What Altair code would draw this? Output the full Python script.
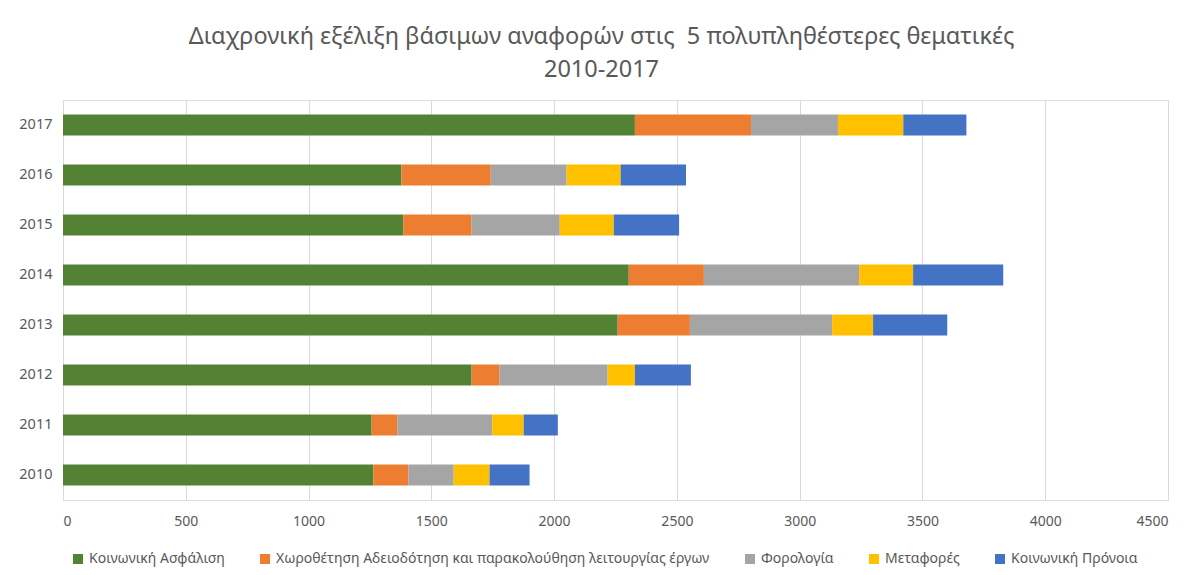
import altair as alt
import pandas as pd

years = ["2010", "2011", "2012", "2013", "2014", "2015", "2016", "2017"]
series = [
    "Κοινωνική Ασφάλιση",
    "Χωροθέτηση Αδειοδότηση και παρακολούθηση λειτουργίας έργων",
    "Φορολογία",
    "Μεταφορές",
    "Κοινωνική Πρόνοια",
]
koinoniki_asfalisi = [1264, 1257, 1664, 2259, 2304, 1386, 1378, 2329]
xorothetisi = [143, 104, 114, 294, 306, 278, 364, 473]
forologia = [184, 387, 440, 579, 632, 359, 309, 354]
metafores = [146, 128, 111, 167, 220, 220, 220, 266]
koinoniki_pronoia = [163, 139, 228, 302, 367, 266, 266, 257]
colors = ["#548235", "#ED7D31", "#A5A5A5", "#FFC000", "#4472C4"]

rows = []
for i, y in enumerate(years):
    for k, vals in enumerate([koinoniki_asfalisi, xorothetisi, forologia, metafores, koinoniki_pronoia]):
        rows.append({"year": y, "series": series[k], "order": k, "value": vals[i]})
df = pd.DataFrame(rows)

FONT = "Noto Sans"

chart = alt.Chart(df).mark_bar().encode(
    y=alt.Y("year:N", sort=years[::-1], title=None,
            scale=alt.Scale(paddingInner=0.58, paddingOuter=0.29),
            axis=alt.Axis(ticks=False, domain=False, labelPadding=11, labelFontSize=14.5,
                          labelColor="#595959", labelFont=FONT)),
    x=alt.X("value:Q", stack="zero", title=None,
            scale=alt.Scale(domain=[0, 4500], nice=False),
            axis=alt.Axis(values=list(range(0, 4501, 500)), format="d", ticks=False, domain=False,
                          grid=True, gridColor="#D9D9D9", gridWidth=1, labelPadding=14,
                          labelFontSize=14, labelColor="#595959", labelFont=FONT)),
    color=alt.Color("series:N", sort=series,
                    scale=alt.Scale(domain=series, range=colors),
                    legend=alt.Legend(title=None, orient="none", direction="horizontal",
                                      legendX=8, legendY=452, symbolType="square",
                                      symbolSize=100, symbolStrokeWidth=0, labelFontSize=14,
                                      labelColor="#595959", labelFont=FONT, columnPadding=33,
                                      labelLimit=600)),
    order=alt.Order("order:Q", sort="ascending"),
).properties(
    width=1105,
    height=400,
    autosize=alt.AutoSizeParams(type="none"),
    padding={"left": 63, "top": 100, "right": 18, "bottom": 75},
    title=alt.TitleParams(
        text=["Διαχρονική εξέλιξη βάσιμων αναφορών στις\u00a0 5 πολυπληθέστερες θεματικές", "2010-2017"],
        fontSize=23.5, font=FONT, fontWeight="normal", color="#595959",
        anchor="middle", dx=-14, offset=19, lineHeight=33,
    ),
).configure_view(stroke=None).configure(background="white")

chart.save("out.html", embed_options={"renderer": "svg", "actions": False})
